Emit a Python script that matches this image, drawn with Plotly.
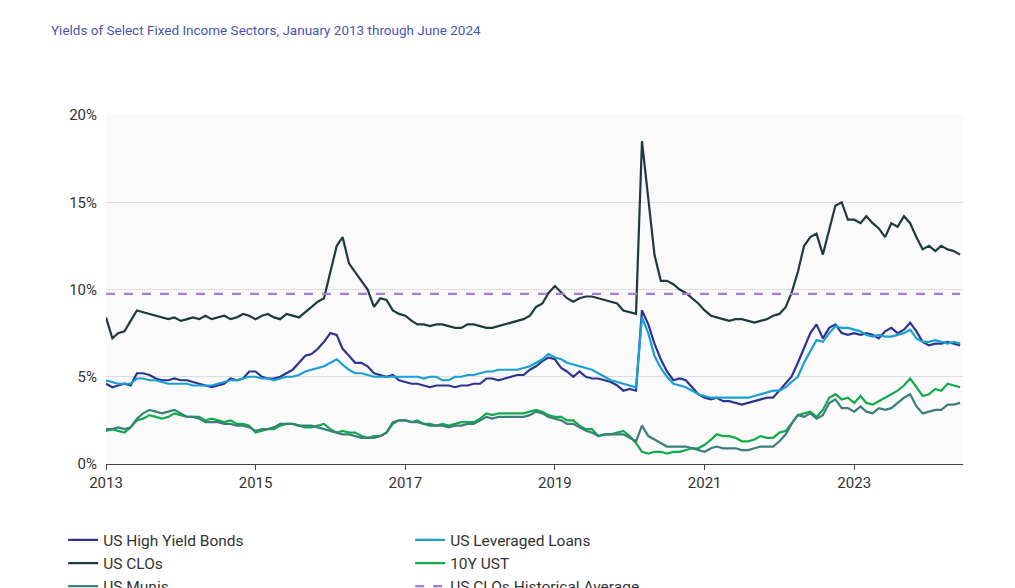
import plotly.graph_objects as go
import pandas as pd

dates = pd.date_range("2013-01-01", "2024-06-01", freq="MS")

clo = [8.4,7.2,7.5,7.6,8.2,8.8,8.7,8.6,8.5,8.4,8.3,8.4,
       8.2,8.3,8.4,8.3,8.5,8.3,8.4,8.5,8.3,8.4,8.6,8.5,
       8.3,8.5,8.6,8.4,8.3,8.6,8.5,8.4,8.7,9.0,9.3,9.5,
       11.0,12.5,13.0,11.5,11.0,10.5,10.0,9.0,9.5,9.4,8.8,8.6,
       8.5,8.2,8.0,8.0,7.9,8.0,8.0,7.9,7.8,7.8,8.0,8.0,
       7.9,7.8,7.8,7.9,8.0,8.1,8.2,8.3,8.5,9.0,9.2,9.8,
       10.2,9.8,9.5,9.3,9.5,9.6,9.6,9.5,9.4,9.3,9.2,8.8,
       8.7,8.6,18.5,15.0,12.0,10.5,10.5,10.3,10.0,9.8,9.5,9.2,
       8.8,8.5,8.4,8.3,8.2,8.3,8.3,8.2,8.1,8.2,8.3,8.5,
       8.6,9.0,9.8,11.0,12.5,13.0,13.2,12.0,13.5,14.8,15.0,14.0,
       14.0,13.8,14.2,13.8,13.5,13.0,13.8,13.6,14.2,13.8,13.0,12.3,
       12.5,12.2,12.5,12.3,12.2,12.0]
hy = [4.6,4.4,4.5,4.6,4.5,5.2,5.2,5.1,4.9,4.8,4.8,4.9,
      4.8,4.8,4.7,4.6,4.5,4.4,4.5,4.6,4.9,4.8,4.9,5.3,
      5.3,5.0,4.9,4.9,5.0,5.2,5.4,5.8,6.2,6.3,6.6,7.0,
      7.5,7.4,6.6,6.2,5.8,5.8,5.6,5.2,5.1,5.0,5.1,4.8,
      4.7,4.6,4.6,4.5,4.4,4.5,4.5,4.5,4.4,4.5,4.5,4.6,
      4.6,4.9,4.9,4.8,4.9,5.0,5.1,5.1,5.4,5.6,5.9,6.1,
      6.0,5.5,5.3,5.0,5.3,5.0,4.9,4.9,4.8,4.7,4.5,4.2,
      4.3,4.2,8.8,8.0,6.9,6.0,5.3,4.8,4.9,4.8,4.4,4.0,
      3.8,3.7,3.8,3.6,3.6,3.5,3.4,3.5,3.6,3.7,3.8,3.8,
      4.2,4.6,5.0,5.8,6.6,7.5,8.0,7.2,7.8,8.0,7.5,7.4,
      7.5,7.4,7.5,7.4,7.2,7.6,7.8,7.5,7.7,8.1,7.6,7.0,
      6.8,6.9,6.9,7.0,6.9,6.8]
loans = [4.8,4.7,4.6,4.6,4.6,4.9,4.9,4.8,4.8,4.7,4.6,4.6,
         4.6,4.6,4.5,4.5,4.5,4.5,4.6,4.7,4.8,4.8,4.9,5.0,
         5.0,4.9,4.9,4.8,4.9,5.0,5.0,5.1,5.3,5.4,5.5,5.6,
         5.8,6.0,5.7,5.4,5.2,5.2,5.1,5.0,5.0,5.0,5.0,5.0,
         5.0,5.0,5.0,4.9,5.0,5.0,4.8,4.8,5.0,5.0,5.1,5.1,
         5.2,5.3,5.3,5.4,5.4,5.4,5.4,5.5,5.6,5.8,6.0,6.3,
         6.1,6.0,5.8,5.7,5.6,5.5,5.4,5.2,5.0,4.8,4.7,4.6,
         4.5,4.4,8.4,7.5,6.2,5.5,5.0,4.6,4.5,4.4,4.2,4.0,
         3.9,3.8,3.8,3.8,3.8,3.8,3.8,3.8,3.9,4.0,4.1,4.2,
         4.2,4.4,4.7,5.0,5.8,6.5,7.1,7.0,7.5,7.9,7.8,7.8,
         7.7,7.6,7.4,7.3,7.4,7.3,7.3,7.4,7.5,7.7,7.2,7.0,
         7.0,7.1,7.0,6.9,7.0,6.9]
ust = [1.9,2.0,1.9,1.8,2.1,2.5,2.6,2.8,2.7,2.6,2.7,2.9,
       2.8,2.7,2.7,2.7,2.5,2.6,2.5,2.4,2.5,2.3,2.3,2.2,
       1.8,1.9,2.0,2.0,2.2,2.3,2.3,2.2,2.1,2.1,2.2,2.3,
       2.0,1.8,1.9,1.8,1.8,1.6,1.5,1.6,1.6,1.8,2.3,2.5,
       2.5,2.4,2.5,2.3,2.3,2.2,2.3,2.2,2.3,2.4,2.4,2.4,
       2.6,2.9,2.8,2.9,2.9,2.9,2.9,2.9,3.0,3.1,3.0,2.8,
       2.7,2.7,2.5,2.5,2.2,2.0,2.0,1.6,1.7,1.7,1.8,1.9,
       1.6,1.2,0.7,0.6,0.7,0.7,0.6,0.7,0.7,0.8,0.9,0.9,
       1.1,1.4,1.7,1.6,1.6,1.5,1.3,1.3,1.4,1.6,1.5,1.5,
       1.8,1.9,2.3,2.8,2.9,3.0,2.7,3.1,3.8,4.0,3.7,3.8,
       3.5,3.9,3.5,3.4,3.6,3.8,4.0,4.2,4.5,4.9,4.4,3.9,
       4.0,4.3,4.2,4.6,4.5,4.4]
munis = [2.0,2.0,2.1,2.0,2.1,2.6,2.9,3.1,3.0,2.9,3.0,3.1,
         2.9,2.7,2.7,2.6,2.4,2.4,2.4,2.3,2.3,2.2,2.2,2.1,
         1.9,2.0,2.0,2.1,2.3,2.3,2.3,2.2,2.2,2.2,2.1,2.0,
         1.9,1.8,1.7,1.7,1.6,1.5,1.5,1.5,1.6,1.8,2.4,2.5,
         2.5,2.4,2.4,2.3,2.2,2.2,2.2,2.1,2.2,2.2,2.3,2.3,
         2.5,2.7,2.6,2.7,2.7,2.7,2.7,2.7,2.8,3.0,2.9,2.7,
         2.6,2.5,2.3,2.3,2.1,1.9,1.8,1.6,1.7,1.7,1.7,1.7,
         1.5,1.3,2.2,1.6,1.4,1.2,1.0,1.0,1.0,1.0,0.9,0.8,
         0.7,0.9,1.0,0.9,0.9,0.9,0.8,0.8,0.9,1.0,1.0,1.0,
         1.3,1.7,2.3,2.8,2.7,2.9,2.6,2.8,3.5,3.7,3.2,3.2,
         3.0,3.3,3.0,2.9,3.2,3.1,3.2,3.5,3.8,4.0,3.3,2.9,
         3.0,3.1,3.1,3.4,3.4,3.5]
clo_avg = 9.75

series = [
    ("US High Yield Bonds", [v/100 for v in hy], "#2b3590", "solid"),
    ("US Leveraged Loans", [v/100 for v in loans], "#1a9fd4", "solid"),
    ("US CLOs", [v/100 for v in clo], "#1d3a3c", "solid"),
    ("10Y UST", [v/100 for v in ust], "#13ab4a", "solid"),
    ("US Munis", [v/100 for v in munis], "#3a7f7a", "solid"),
    ("US CLOs Historical Average", [clo_avg/100]*len(dates), "#a47ddf", "dash"),
]

fig = go.Figure()
for name, ys, col, dash in series:
    fig.add_trace(go.Scatter(x=dates, y=ys, name=name, mode="lines",
                             line=dict(color=col, width=2.2, dash=dash)))

fig.add_annotation(xref="paper", yref="paper", x=-0.067, y=1.30, xanchor="left", yanchor="bottom",
                   align="left", showarrow=False,
                   text="<b>Exhibit 4. Structured Credit Historically Has Offered Higher Yields than Traditional Fixed Income and<br>Corporate Debt Investments...</b>",
                   font=dict(family="Inter, Roboto, sans-serif", size=16.5, color="#2e3192"))
fig.add_annotation(xref="paper", yref="paper", x=-0.067, y=1.215, xanchor="left", yanchor="bottom",
                   align="left", showarrow=False,
                   text="Yields of Select Fixed Income Sectors, January 2013 through June 2024",
                   font=dict(family="Roboto, sans-serif", size=13.5, color="#4a55b0"))

fig.update_layout(
    width=1015, height=588,
    margin=dict(l=98, r=60, t=107, b=132, autoexpand=False),
    paper_bgcolor="white", plot_bgcolor="#fafafa",
    font=dict(family="Roboto, Inter, sans-serif", size=15, color="#333"),
    xaxis=dict(range=["2013-01-01", "2024-06-15"], tickvals=["2013-01-01","2015-01-01","2017-01-01","2019-01-01","2021-01-01","2023-01-01"],
               ticktext=["2013","2015","2017","2019","2021","2023"], showgrid=False,
               showline=True, linecolor="#444", ticks="outside", ticklen=5, tickcolor="#444"),
    yaxis=dict(range=[0, 0.2], tickformat=".0%", dtick=0.05, gridcolor="#dddddd", zeroline=False,
               ticklabelstandoff=8),
    legend=dict(orientation="h", x=-0.05, y=-0.17, xanchor="left", yanchor="top",
                entrywidth=302, tracegroupgap=0, font=dict(size=15.5)),
)
fig.write_html("out.html")
